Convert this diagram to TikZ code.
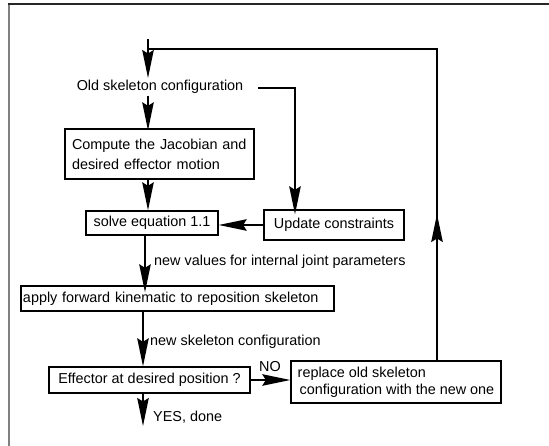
\documentclass[tikz,border=0pt]{standalone}
\usepackage{fontspec}
\setmainfont{Liberation Sans}
\usetikzlibrary{arrows.meta}
\begin{document}
\begin{tikzpicture}[x=1pt,y=-1pt, font=\fontsize{14.4}{20}\selectfont,
 box/.style={draw, line width=1.4pt, inner sep=0pt, anchor=center},
 conn/.style={line width=1.5pt},
 arr/.style={conn, -{Stealth[length=28pt,width=11.5pt,inset=3.5pt]}},
 lbl/.style={inner sep=0pt}
]
\useasboundingbox (0,0) rectangle (549,446);
% frame
\draw[line width=1.5pt, gray] (9,446) -- (9,4);
\draw[line width=1.2pt, black!85] (8.3,4) -- (549,4);
% nodes
\node[lbl] (old) at (160,87) {Old skeleton configuration};
\node[box, minimum width=189pt, minimum height=50pt, text width=175pt, align=left] (comp) at (159.5,154) {Compute the Jacobian and\\desired effector motion};
\node[box, minimum width=132pt, minimum height=24pt] (solve) at (152,223) {solve equation 1.1};
\node[box, minimum width=140pt, minimum height=30pt] (upd) at (334,225) {Update constraints};
\node[box, minimum width=313pt, minimum height=25pt, text width=309pt, align=left] (apply) at (177.5,298.5) {apply forward kinematic to reposition skeleton};
\node[box, minimum width=201pt, minimum height=26pt] (eff) at (149.5,380) {Effector at desired position ?};
\node[box, minimum width=210pt, minimum height=42pt, align=left, font=\fontsize{14.4}{17}\selectfont] (repl) at (396,382) {replace old skeleton\\\hspace*{2pt}configuration with the new one};
% labels
\node[lbl, anchor=west] (lab1) at (154,262) {new values for internal joint parameters};
\node[lbl, anchor=west] (lab2) at (150,342) {new skeleton configuration};
\node[lbl] (labno) at (270,367) {NO};
\node[lbl, anchor=west] (labyes) at (153,417) {YES, done};
% coordinates
\coordinate (s0) at (148,39);
\coordinate (s1) at (148,78);
\coordinate (fbtop) at (437,49);
\coordinate (fbleft) at (148,49);
\coordinate (fbmid) at (437,214);
\coordinate (oldc) at (295,0);
\coordinate (c2) at (145,0);
\coordinate (c3) at (143,0);
\coordinate (done) at (143,426);
% connectors
\draw[conn] (repl.north -| fbtop) -- (fbtop) -- (fbleft);
\draw[arr] (s0) -- (s1);
\draw[arr] ([yshift=-2pt]old.south -| s0) -- ([yshift=-2pt]comp.north -| s0);
\draw[arr] (comp.south -| s0) -- (solve.north -| s0);
\draw[arr] ([xshift=15pt,yshift=-1pt]old.east) -| ([yshift=-5pt]oldc |- upd.north);
\draw[arr] (upd.west) -- (upd.west -| solve.east);
\draw[arr] (solve.south -| c2) -- ([yshift=-7pt]apply.north -| c2);
\draw[arr] (apply.south -| c3) -- (eff.north -| c3);
\draw[arr] (eff.east) -- (repl.west |- eff.east);
\draw[arr] (eff.south -| c3) -- (done);
\draw[arr] (repl.north -| fbtop) -- (fbmid);
\end{tikzpicture}
\end{document}
